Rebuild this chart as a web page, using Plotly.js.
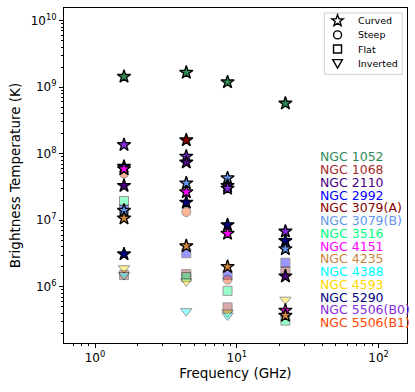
<!DOCTYPE html>
<html>
<head>
<meta charset="utf-8">
<script src="https://cdn.plot.ly/plotly-3.0.1.min.js"></script>
<style>
  html, body { margin: 0; padding: 0; background: #fff; }
  #chart { width: 415px; height: 392px; }
</style>
</head>
<body>
<div id="chart"></div>
<script>
// sources, same order as the coloured labels on the right
const sources = ['NGC 1052', 'NGC 1068', 'NGC 2110', 'NGC 2992', 'NGC 3079(A)', 'NGC 3079(B)', 'NGC 3516',
                 'NGC 4151', 'NGC 4235', 'NGC 4388', 'NGC 4593', 'NGC 5290', 'NGC 5506(B0)', 'NGC 5506(B1)'];
const source_colors = ['#2e8b57', '#a52a2a', '#4b0082', '#0000ff', '#8b0000', '#6495ed', '#00ff7f',
                       '#ff00ff', '#cd853f', '#00ffff', '#ffd700', '#000080', '#8a2be2', '#ff4500'];

// Curved spectra (stars)
const curved_src  = ['NGC 1052', 'NGC 5506(B0)', 'NGC 5290', 'NGC 4151', 'NGC 2110', 'NGC 3079(B)', 'NGC 4235', 'NGC 5290',
                     'NGC 1052', 'NGC 3079(A)', 'NGC 5506(B0)', 'NGC 2110', 'NGC 3079(B)', 'NGC 4151', 'NGC 5290', 'NGC 4235',
                     'NGC 1052', 'NGC 3079(B)', 'NGC 2110', 'NGC 5506(B0)', 'NGC 5290', 'NGC 4151', 'NGC 4235',
                     'NGC 1052', 'NGC 5506(B0)', 'NGC 5290', 'NGC 3079(B)', 'NGC 2110', 'NGC 4151', 'NGC 4235'];
const curved_freq = [1.6, 1.6, 1.6, 1.6, 1.6, 1.6, 1.6, 1.6,
                     4.4, 4.4, 4.4, 4.4, 4.4, 4.4, 4.4, 4.4,
                     8.6, 8.6, 8.6, 8.6, 8.6, 8.6, 8.6,
                     22, 22, 22, 22, 22, 22, 22];
const curved_tb   = [1.44e9, 1.36e8, 6.4e7, 5.9e7, 3.3e7, 1.4e7, 1.07e7, 3.1e6,
                     1.66e9, 1.6e8, 9.1e7, 7.4e7, 3.6e7, 2.65e7, 1.85e7, 4.1e6,
                     1.19e9, 4.3e7, 3.3e7, 3.0e7, 8.5e6, 6.3e6, 2.0e6,
                     5.7e8, 6.8e6, 4.9e6, 3.7e6, 1.44e6, 4.4e5, 3.7e5];

// Steep spectra (circles)
const steep_src  = ['NGC 5506(B1)', 'NGC 5506(B1)', 'NGC 5506(B1)'];
const steep_freq = [1.6, 4.4, 8.6];
const steep_tb   = [5.0e7, 1.33e7, 1.28e6];

// Flat spectra (squares)
const flat_src  = ['NGC 3516', 'NGC 2992', 'NGC 1068',
                   'NGC 2992', 'NGC 1068', 'NGC 3516',
                   'NGC 2992', 'NGC 3516', 'NGC 1068',
                   'NGC 2992', 'NGC 1068', 'NGC 3516'];
const flat_freq = [1.6, 1.6, 1.6, 4.4, 4.4, 4.4, 8.6, 8.6, 8.6, 22, 22, 22];
const flat_tb   = [1.95e7, 1.45e7, 1.5e6,
                   3.2e6, 1.55e6, 1.4e6,
                   1.5e6, 8.7e5, 4.9e5,
                   2.3e6, 1.7e6, 3.1e5];

// Inverted spectra (triangles)
const inverted_src  = ['NGC 4593', 'NGC 4388', 'NGC 4593', 'NGC 4388', 'NGC 4593', 'NGC 4388', 'NGC 4593'];
const inverted_freq = [1.6, 1.6, 4.4, 4.4, 8.6, 8.6, 22];
const inverted_tb   = [1.9e6, 1.5e6, 1.2e6, 4.3e5, 4.1e5, 3.7e5, 6.4e5];

const x_tickvals = [1, 10, 100];
const x_ticktext = ['10<sup>0</sup>', '10<sup>1</sup>', '10<sup>2</sup>'];
const y_tickvals = [1e6, 1e7, 1e8, 1e9, 1e10];
const y_ticktext = ['10<sup>6</sup>', '10<sup>7</sup>', '10<sup>8</sup>', '10<sup>9</sup>', '10<sup>10</sup>'];

// marker legend (spectral class)
const legend_names = ['Curved', 'Steep', 'Flat', 'Inverted'];

function color_of(name){ return source_colors[sources.indexOf(name)]; }

function minor_vals(lo, hi){
    let out = [];
    for (let p = lo; p <= hi; p++)
        for (let m = 2; m <= 9; m++) out.push(m * Math.pow(10, p));
    return out;
}

function faded_trace(xs, ys, names, symbol, size){
    return {
        x: xs, y: ys, type: 'scatter', mode: 'markers', showlegend: false,
        text: names, hoverinfo: 'text+x+y',
        marker: {symbol: symbol, size: size, color: names.map(color_of), opacity: 0.4,
                 line: {color: 'black', width: 1}}
    };
}

let traces = [
    faded_trace(flat_freq, flat_tb, flat_src, 'square', 9),
    faded_trace(inverted_freq, inverted_tb, inverted_src, 'triangle-down', 10),
    faded_trace(steep_freq, steep_tb, steep_src, 'circle', 9),
    {
        x: curved_freq, y: curved_tb, type: 'scatter', mode: 'markers', showlegend: false,
        text: curved_src, hoverinfo: 'text+x+y',
        marker: {symbol: 'star', size: 10, color: curved_src.map(color_of),
                 line: {color: 'black', width: 1.3}}
    }
];

const axis_font = {family: 'DejaVu Sans', size: 13.5, color: 'black'};
const tick_font = {family: 'DejaVu Sans', size: 12, color: 'black'};

let annotations = sources.map((s, i) => ({
    text: s, xref: 'paper', yref: 'paper', x: 0.741, y: 0.556 - i * 0.0381,
    xanchor: 'left', yanchor: 'middle', showarrow: false,
    font: {family: 'DejaVu Sans', size: 12.5, color: source_colors[i]}
}));

// ---- hand made legend box in the top right corner ----
let shapes = [{
    type: 'rect', xref: 'paper', yref: 'paper',
    x0: 0.759, x1: 0.986, y0: 0.802, y1: 0.985,
    line: {color: '#d0d0d0', width: 1}, fillcolor: 'white', layer: 'above'
}];

// open symbol outlines, in pixels around an anchor point
function star_path(R, r){
    let p = '';
    for (let k = 0; k < 10; k++){
        let a = Math.PI / 2 + k * Math.PI / 5;
        let rad = k % 2 == 0 ? R : r;
        p += (k == 0 ? 'M' : 'L') + (rad * Math.cos(a)).toFixed(2) + ',' + (rad * Math.sin(a)).toFixed(2);
    }
    return p + 'Z';
}
const glyph_paths = [star_path(6, 2.5), null, 'M-4,-4L4,-4L4,4L-4,4Z', 'M-4.8,3.6L4.8,3.6L0,-4.8Z'];

legend_names.forEach((n, i) => {
    let y = 0.962 - i * 0.0423;
    let base = {xref: 'paper', yref: 'paper', xsizemode: 'pixel', ysizemode: 'pixel',
                xanchor: 0.7975, yanchor: y, layer: 'above',
                line: {color: 'black', width: 1.4}, fillcolor: 'rgba(0,0,0,0)'};
    if (glyph_paths[i] == null)
        shapes.push(Object.assign({type: 'circle', x0: -4, x1: 4, y0: -4, y1: 4}, base));
    else
        shapes.push(Object.assign({type: 'path', path: glyph_paths[i]}, base));

    annotations.push({
        text: n, xref: 'paper', yref: 'paper', x: 0.852, y: y,
        xanchor: 'left', yanchor: 'middle', showarrow: false,
        font: {family: 'DejaVu Sans', size: 9.5, color: 'black'}
    });
});

const layout = {
    width: 415, height: 392,
    margin: {l: 64, r: 8, t: 8, b: 49},
    paper_bgcolor: 'white', plot_bgcolor: 'white',
    showlegend: false,
    xaxis: {
        type: 'log', range: [-0.219, 2.2],
        tickmode: 'array', tickvals: x_tickvals, ticktext: x_ticktext,
        ticks: 'outside', ticklen: 4, tickwidth: 1, tickcolor: 'black',
        minor: {tickmode: 'array', tickvals: minor_vals(-1, 2), ticks: 'outside', ticklen: 2, tickcolor: 'black', showgrid: false},
        showgrid: false, zeroline: false,
        showline: true, linecolor: 'black', linewidth: 1, mirror: true,
        tickfont: tick_font,
        title: {text: 'Frequency (GHz)', font: axis_font, standoff: 4}
    },
    yaxis: {
        type: 'log', range: [5.155, 10.19],
        tickmode: 'array', tickvals: y_tickvals, ticktext: y_ticktext,
        ticks: 'outside', ticklen: 4, tickwidth: 1, tickcolor: 'black',
        minor: {tickmode: 'array', tickvals: minor_vals(5, 10), ticks: 'outside', ticklen: 2, tickcolor: 'black', showgrid: false},
        showgrid: false, zeroline: false,
        showline: true, linecolor: 'black', linewidth: 1, mirror: true,
        tickfont: tick_font,
        title: {text: 'Brightness Temperature (K)', font: axis_font, standoff: 6}
    },
    shapes: shapes,
    annotations: annotations
};

Plotly.newPlot('chart', traces, layout, {displayModeBar: false, staticPlot: true});
</script>
</body>
</html>
